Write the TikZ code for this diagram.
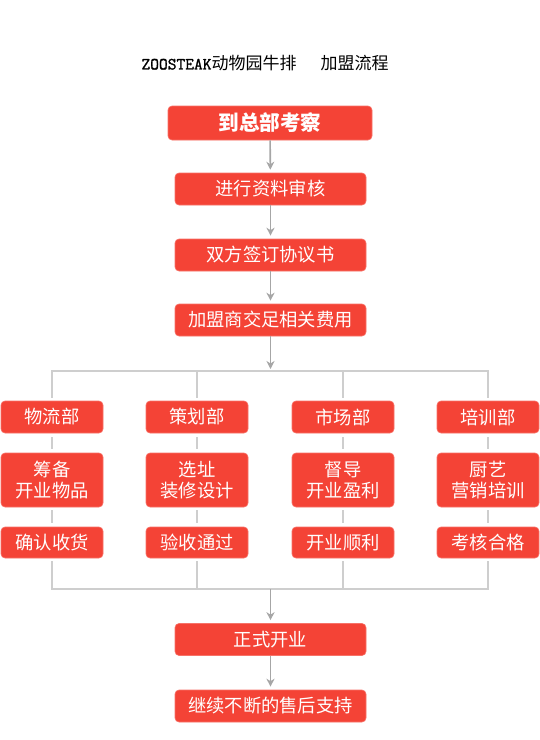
\documentclass[tikz,border=0pt]{standalone}
\usepackage{fontspec}
\setmainfont{Noto Sans CJK SC}
\newfontfamily\zoomono[FakeBold=1.5]{Latin Modern Mono}
\usetikzlibrary{arrows.meta}
\definecolor{boxred}{RGB}{244,67,54}
\definecolor{arrowgray}{RGB}{166,166,166}
\definecolor{linegray}{RGB}{206,206,206}
\tikzset{
  flowbox/.style={fill=boxred, draw=boxred!75!white, line width=0.6pt, rounded corners=4pt,
    text=white, inner sep=0pt, minimum width=191pt, minimum height=32pt,
    font=\fontsize{18.3}{21}\selectfont, align=center},
  deptbox/.style={flowbox, minimum width=102pt},
  flowarrow/.style={draw=arrowgray, line width=1.6pt, -{Stealth[length=8pt,width=8pt,inset=2.5pt]}, shorten >=3pt},
  branch/.style={draw=linegray, line width=1.3pt}
}
\begin{document}
\begin{tikzpicture}[x=1pt,y=-1pt]
  \useasboundingbox (0,0) rectangle (540,740);
  \node (title) at (265,63) {\fontsize{17}{20}\selectfont{\zoomono\fontsize{17}{20}\selectfont ZOOSTEAK}动物园牛排\hspace{24pt}加盟流程};

  \node (visit) at (270,123) [flowbox, minimum width=204pt, minimum height=34pt, font=\fontsize{20.6}{24}\selectfont\bfseries] {到总部考察};
  \node (review) at (270.5,189) [flowbox] {进行资料审核};
  \node (sign) at (270.5,255) [flowbox] {双方签订协议书};
  \node (fees) at (270.5,320) [flowbox] {加盟商交足相关费用};

  \node (logi) at (52,417) [deptbox] {物流部};
  \node (plan) at (197,417) [deptbox] {策划部};
  \node (mkt) at (343,417) [deptbox] {市场部};
  \node (train) at (488,417) [deptbox] {培训部};

  \node (logi2) at (52,480) [deptbox, minimum height=54pt] {筹备\\开业物品};
  \node (plan2) at (197,480) [deptbox, minimum height=54pt] {选址\\装修设计};
  \node (mkt2) at (343,480) [deptbox, minimum height=54pt] {督导\\开业盈利};
  \node (train2) at (488,480) [deptbox, minimum height=54pt] {厨艺\\营销培训};

  \node (logi3) at (52,542.5) [deptbox, minimum height=31pt] {确认收货};
  \node (plan3) at (197,542.5) [deptbox, minimum height=31pt] {验收通过};
  \node (mkt3) at (343,542.5) [deptbox, minimum height=31pt] {开业顺利};
  \node (train3) at (488,542.5) [deptbox, minimum height=31pt] {考核合格};

  \node (open) at (270.5,639.5) [flowbox] {正式开业};
  \node (after) at (270.5,706) [flowbox] {继续不断的售后支持};

  \coordinate (split) at (270.5,371);
  \coordinate (join) at (270.5,589);

  \draw[flowarrow] (visit) -- (review);
  \draw[flowarrow] (review) -- (sign);
  \draw[flowarrow] (sign) -- (fees);
  \draw[flowarrow, shorten >=2pt] (fees) -- (split);

  \draw[branch, shorten >=3pt] (split) -| (logi);
  \draw[branch, shorten >=3pt] (split) -| (train);
  \draw[branch, shorten >=3pt] (plan.north |- split) -- (plan);
  \draw[branch, shorten >=3pt] (mkt.north |- split) -- (mkt);

  \draw[branch, shorten <=4pt, shorten >=4pt] (logi) -- (logi2);
  \draw[branch, shorten <=4pt, shorten >=4pt] (plan) -- (plan2);
  \draw[branch, shorten <=4pt, shorten >=4pt] (mkt) -- (mkt2);
  \draw[branch, shorten <=4pt, shorten >=4pt] (train) -- (train2);
  \draw[branch, shorten <=3pt, shorten >=4pt] (logi2) -- (logi3);
  \draw[branch, shorten <=3pt, shorten >=4pt] (plan2) -- (plan3);
  \draw[branch, shorten <=3pt, shorten >=4pt] (mkt2) -- (mkt3);
  \draw[branch, shorten <=3pt, shorten >=4pt] (train2) -- (train3);

  \draw[branch, shorten <=3pt] (logi3) |- (join);
  \draw[branch, shorten <=3pt] (train3) |- (join);
  \draw[branch, shorten <=3pt] (plan3) -- (plan3.south |- join);
  \draw[branch, shorten <=3pt] (mkt3) -- (mkt3.south |- join);

  \draw[flowarrow] (join) -- (open);
  \draw[flowarrow] (open) -- (after);
\end{tikzpicture}
\end{document}
